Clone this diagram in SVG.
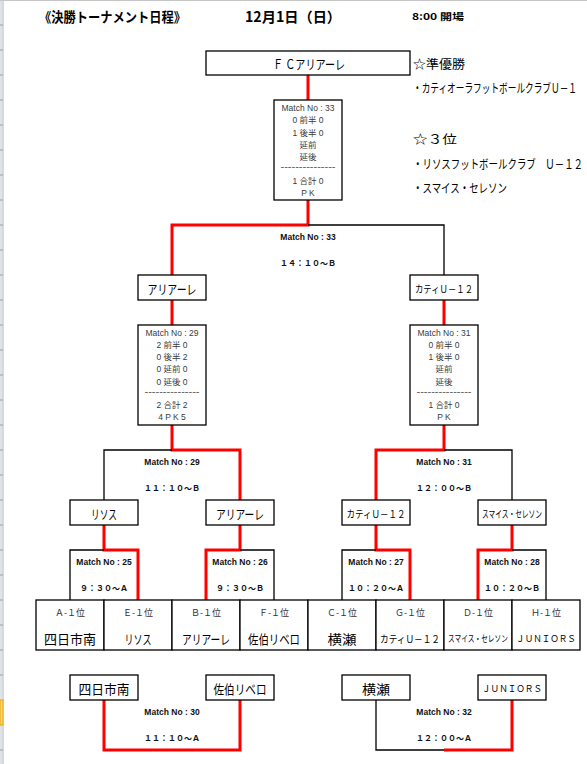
<svg xmlns="http://www.w3.org/2000/svg" width="587" height="764" viewBox="0 0 587 764">
<style>
.box{fill:#fff;stroke:#000;stroke-width:1.3}
.red{fill:none;stroke:#f00;stroke-width:3;stroke-linejoin:miter}
.blk{fill:none;stroke:#000;stroke-width:1.3}
text{dominant-baseline:central}
.jp{font-family:"Noto Sans CJK JP","Noto Sans",sans-serif;fill:#000}
.c{text-anchor:middle}
.lb{font-size:13px}
.sm{font-size:10px}
.xs{font-size:9px}
.sc{font-family:"Liberation Sans","Noto Sans CJK JP",sans-serif;font-size:8.5px;fill:#3a3a3a;text-anchor:middle}
.mn{font-family:"Liberation Sans","Noto Sans CJK JP",sans-serif;font-weight:bold;font-size:8.5px;fill:#111;text-anchor:middle}
.tm{font-family:"Noto Sans CJK JP",sans-serif;font-weight:bold;font-size:8px;fill:#111;text-anchor:middle}
.gl{font-family:"Noto Sans CJK JP",sans-serif;font-size:9px;fill:#333;text-anchor:middle}
.side{font-family:"Noto Sans CJK JP","Noto Sans",sans-serif;font-size:12.5px;fill:#000}
</style>
<rect x="0" y="0" width="587" height="764" fill="#fff"/>
<g id="sheet-edge">
<rect x="0" y="0" width="3" height="764" fill="#dfe3e8"/>
<line x1="3.2" y1="0" x2="3.2" y2="764" stroke="#b8bcc2" stroke-width="0.8"/>
<line x1="0" y1="0.5" x2="587" y2="0.5" stroke="#c6c6c6" stroke-width="1"/>
<path d="M0,25H3M0,50H3M0,75H3M0,100H3M0,125H3M0,150H3M0,175H3M0,200H3M0,225H3M0,250H3M0,275H3M0,300H3M0,325H3M0,350H3M0,375H3M0,400H3M0,425H3M0,450H3M0,475H3M0,500H3M0,525H3M0,550H3M0,575H3M0,600H3M0,625H3M0,650H3M0,675H3M0,750H3" stroke="#9aa0a6" stroke-width="1"/>
<rect x="0" y="700" width="3" height="25" fill="#ffd966" stroke="#e3a21a" stroke-width="1"/>
</g>
<g id="header">
<text x="39" y="16" class="jp" font-size="13.5" font-weight="bold" textLength="147" lengthAdjust="spacingAndGlyphs">《決勝トーナメント日程》</text>
<text x="245" y="16" class="jp" font-size="14" font-weight="bold" textLength="96" lengthAdjust="spacingAndGlyphs">12月1日（日）</text>
<text x="412" y="16" class="jp" font-size="9.5" font-weight="bold" textLength="52" lengthAdjust="spacingAndGlyphs">8:00  開場</text>
</g>
<g id="results">
<text x="413" y="63" class="side" textLength="52" lengthAdjust="spacingAndGlyphs">☆準優勝</text>
<text transform="translate(413,88) scale(0.69,1)" x="0" y="0" class="side" textLength="237.7" lengthAdjust="spacingAndGlyphs">・カティオーラフットボールクラブＵ－１</text>
<text x="413" y="138" class="side" textLength="44" lengthAdjust="spacingAndGlyphs">☆３位</text>
<text transform="translate(413,163) scale(0.756,1)" x="0" y="0" class="side" textLength="224.9" lengthAdjust="spacingAndGlyphs">・リソスフットボールクラブ　Ｕ－１２</text>
<text x="413" y="187" class="side" textLength="94" lengthAdjust="spacingAndGlyphs">・スマイス・セレソン</text>
</g>
<g id="connectors">
<path class="red" d="M308,75V100"/>
<path class="red" d="M308,200V225H172V275"/>
<path class="blk" d="M308,225H444V275"/>
<path class="red" d="M172,300V325"/>
<path class="red" d="M444,300V325"/>
<path class="red" d="M172,425V450H240V500"/>
<path class="blk" d="M172,450H104V500"/>
<path class="red" d="M444,425V450H376V500"/>
<path class="blk" d="M444,450H512V500"/>
<path class="red" d="M104,525V550H138V600"/>
<path class="blk" d="M104,550H70V600"/>
<path class="red" d="M240,525V550H206V600"/>
<path class="blk" d="M240,550H274V600"/>
<path class="red" d="M376,525V550H410V600"/>
<path class="blk" d="M376,550H342V600"/>
<path class="red" d="M512,525V550H478V600"/>
<path class="blk" d="M512,550H546V600"/>
<path class="red" d="M104,700V750H240V700"/>
<path class="blk" d="M376,700V750H444"/>
<path class="red" d="M444,750H512V700"/>
</g>
<g id="match-labels">
<text x="308" y="237" class="mn">Match No : 33</text>
<text x="308" y="262" class="tm">１４：１０～Ｂ</text>
<text x="172" y="462" class="mn">Match No : 29</text>
<text x="172" y="487" class="tm">１１：１０～Ｂ</text>
<text x="444" y="462" class="mn">Match No : 31</text>
<text x="444" y="487" class="tm">１２：００～Ｂ</text>
<text x="104" y="562" class="mn">Match No : 25</text>
<text x="104" y="587" class="tm">９：３０～Ａ</text>
<text x="240" y="562" class="mn">Match No : 26</text>
<text x="240" y="587" class="tm">９：３０～Ｂ</text>
<text x="376" y="562" class="mn">Match No : 27</text>
<text x="376" y="587" class="tm">１０：２０～Ａ</text>
<text x="512" y="562" class="mn">Match No : 28</text>
<text x="512" y="587" class="tm">１０：２０～Ｂ</text>
<text x="172" y="712" class="mn">Match No : 30</text>
<text x="172" y="737" class="tm">１１：１０～Ａ</text>
<text x="444" y="712" class="mn">Match No : 32</text>
<text x="444" y="737" class="tm">１２：００～Ａ</text>
</g>
<g id="winner">
<rect class="box" x="206" y="51" width="204" height="24"/>
<text x="309" y="63" class="jp c lb" textLength="72" lengthAdjust="spacingAndGlyphs">Ｆ Ｃアリアーレ</text>
</g>
<g id="score-33">
<rect class="box" x="274" y="100" width="68" height="100"/>
<text x="308" y="108" class="sc">Match No : 33</text>
<text x="308" y="120.3" class="sc">0 前半 0</text>
<text x="308" y="132.5" class="sc">1 後半 0</text>
<text x="308" y="144.6" class="sc">延前</text>
<text x="308" y="156.8" class="sc">延後</text>
<text x="308" y="167" class="sc" textLength="55" lengthAdjust="spacingAndGlyphs">---------------</text>
<text x="308" y="180.5" class="sc">1 合計 0</text>
<text x="308" y="192.5" class="sc">P K</text>
</g>
<g id="team-ariare-sf">
<rect class="box" x="138" y="275" width="68" height="25"/>
<text x="172" y="288" class="jp c lb" textLength="49" lengthAdjust="spacingAndGlyphs">アリアーレ</text>
</g>
<g id="team-kati-sf">
<rect class="box" x="410" y="275" width="68" height="25"/>
<text x="444" y="288" class="jp c sm" textLength="58" lengthAdjust="spacingAndGlyphs">カティＵ－１２</text>
</g>
<g id="score-29">
<rect class="box" x="138" y="325" width="68" height="100"/>
<text x="172" y="333" class="sc">Match No : 29</text>
<text x="172" y="345" class="sc">2 前半 0</text>
<text x="172" y="357.2" class="sc">0 後半 2</text>
<text x="172" y="369.4" class="sc">0 延前 0</text>
<text x="172" y="381.6" class="sc">0 延後 0</text>
<text x="172" y="392" class="sc" textLength="55" lengthAdjust="spacingAndGlyphs">---------------</text>
<text x="172" y="405" class="sc">2 合計 2</text>
<text x="172" y="417.3" class="sc">4 P K 5</text>
</g>
<g id="score-31">
<rect class="box" x="410" y="325" width="68" height="100"/>
<text x="444" y="333" class="sc">Match No : 31</text>
<text x="444" y="345" class="sc">0 前半 0</text>
<text x="444" y="357.2" class="sc">1 後半 0</text>
<text x="444" y="369.4" class="sc">延前</text>
<text x="444" y="381.6" class="sc">延後</text>
<text x="444" y="392" class="sc" textLength="55" lengthAdjust="spacingAndGlyphs">---------------</text>
<text x="444" y="405" class="sc">1 合計 0</text>
<text x="444" y="417.3" class="sc">P K</text>
</g>
<g id="team-lisos-qf">
<rect class="box" x="70" y="500" width="68" height="25"/>
<text x="104" y="513" class="jp c lb" textLength="26" lengthAdjust="spacingAndGlyphs">リソス</text>
</g>
<g id="team-ariare-qf">
<rect class="box" x="206" y="500" width="68" height="25"/>
<text x="240" y="513" class="jp c lb" textLength="48" lengthAdjust="spacingAndGlyphs">アリアーレ</text>
</g>
<g id="team-kati-qf">
<rect class="box" x="342" y="500" width="68" height="25"/>
<text x="376" y="513" class="jp c sm" textLength="59" lengthAdjust="spacingAndGlyphs">カティＵ－１２</text>
</g>
<g id="team-smaiss-qf">
<rect class="box" x="478" y="500" width="68" height="25"/>
<text x="512" y="513" class="jp c sm" textLength="60" lengthAdjust="spacingAndGlyphs">スマイス・セレソン</text>
</g>
<g id="group-a">
<rect class="box" x="36" y="600" width="68" height="50"/>
<text x="70" y="612" class="gl" textLength="30" lengthAdjust="spacingAndGlyphs">Ａ-１位</text>
<text x="70" y="638" class="jp c lb" textLength="52" lengthAdjust="spacingAndGlyphs">四日市南</text>
</g>
<g id="group-e">
<rect class="box" x="104" y="600" width="68" height="50"/>
<text x="138" y="612" class="gl" textLength="30" lengthAdjust="spacingAndGlyphs">Ｅ-１位</text>
<text x="138" y="638" class="jp c lb" textLength="27" lengthAdjust="spacingAndGlyphs">リソス</text>
</g>
<g id="group-b">
<rect class="box" x="172" y="600" width="68" height="50"/>
<text x="206" y="612" class="gl" textLength="30" lengthAdjust="spacingAndGlyphs">Ｂ-１位</text>
<text x="206" y="638" class="jp c lb" textLength="48" lengthAdjust="spacingAndGlyphs">アリアーレ</text>
</g>
<g id="group-f">
<rect class="box" x="240" y="600" width="68" height="50"/>
<text x="274" y="612" class="gl" textLength="30" lengthAdjust="spacingAndGlyphs">Ｆ-１位</text>
<text x="274" y="638" class="jp c lb" textLength="52" lengthAdjust="spacingAndGlyphs">佐伯リベロ</text>
</g>
<g id="group-c">
<rect class="box" x="308" y="600" width="68" height="50"/>
<text x="342" y="612" class="gl" textLength="30" lengthAdjust="spacingAndGlyphs">Ｃ-１位</text>
<text x="342" y="638" class="jp c lb" textLength="29" lengthAdjust="spacingAndGlyphs">横瀬</text>
</g>
<g id="group-g">
<rect class="box" x="376" y="600" width="68" height="50"/>
<text x="410" y="612" class="gl" textLength="30" lengthAdjust="spacingAndGlyphs">Ｇ-１位</text>
<text x="410" y="638" class="jp c sm" textLength="60" lengthAdjust="spacingAndGlyphs">カティＵ－１２</text>
</g>
<g id="group-d">
<rect class="box" x="444" y="600" width="68" height="50"/>
<text x="478" y="612" class="gl" textLength="30" lengthAdjust="spacingAndGlyphs">Ｄ-１位</text>
<text transform="translate(478,638) scale(0.74,1)" x="0" y="0" class="jp c xs" textLength="81" lengthAdjust="spacingAndGlyphs">スマイス・セレソン</text>
</g>
<g id="group-h">
<rect class="box" x="512" y="600" width="68" height="50"/>
<text x="546" y="612" class="gl" textLength="30" lengthAdjust="spacingAndGlyphs">Ｈ-１位</text>
<text transform="translate(546,638) scale(0.95,1)" x="0" y="0" class="jp c xs" textLength="63" lengthAdjust="spacingAndGlyphs">ＪＵＮＩＯＲＳ</text>
</g>
<g id="team-yokkaichi">
<rect class="box" x="70" y="675" width="68" height="25"/>
<text x="104" y="688" class="jp c lb" textLength="51" lengthAdjust="spacingAndGlyphs">四日市南</text>
</g>
<g id="team-saeki">
<rect class="box" x="206" y="675" width="68" height="25"/>
<text x="240" y="688" class="jp c lb" textLength="53" lengthAdjust="spacingAndGlyphs">佐伯リベロ</text>
</g>
<g id="team-yokose">
<rect class="box" x="342" y="675" width="68" height="25"/>
<text x="376" y="688" class="jp c lb" textLength="28" lengthAdjust="spacingAndGlyphs">横瀬</text>
</g>
<g id="team-juniors">
<rect class="box" x="478" y="675" width="68" height="25"/>
<text x="512" y="688" class="jp c xs" fill="#222" textLength="60" lengthAdjust="spacingAndGlyphs">ＪＵＮＩＯＲＳ</text>
</g>
</svg>
